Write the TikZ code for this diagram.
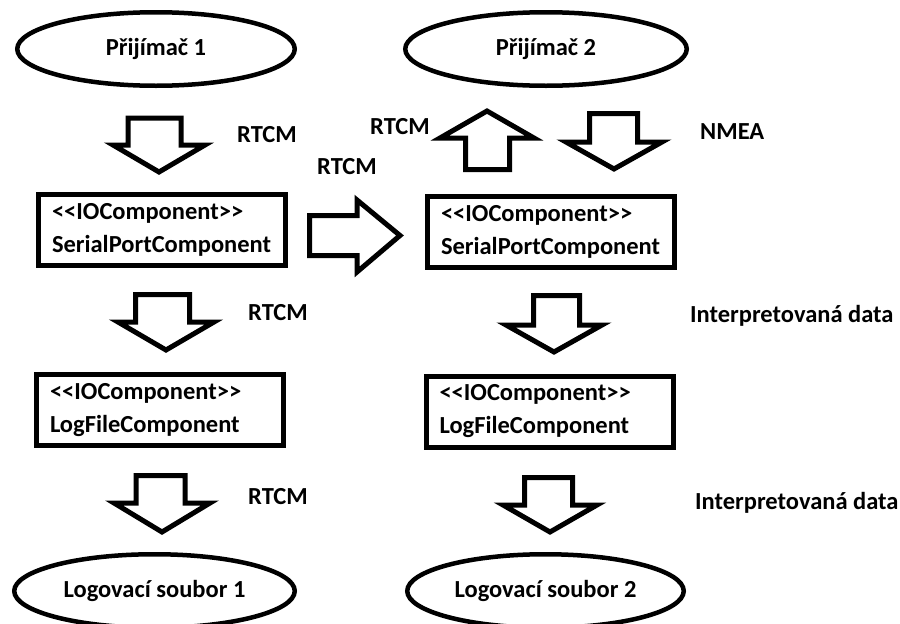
\documentclass[tikz,border=0pt]{standalone}
\usepackage{fontspec}
\setmainfont{Carlito}
\usetikzlibrary{shapes.geometric}
\newcommand\stereo[1]{\mbox{<}\mbox{<}#1\mbox{>}\mbox{>}}
\tikzset{
  txt/.style={font=\fontsize{24.5}{33}\selectfont\bfseries},
  oval/.style={ellipse, draw, line width=4.5pt, inner sep=0pt, txt},
  iobox/.style={rectangle, draw, line width=5pt, txt, align=left,
    text width=220pt, inner xsep=13.5pt, inner ysep=0pt, minimum height=71pt},
  blockarrow/.style={draw, line width=5pt, line join=miter, fill=white},
  lbl/.style={txt, anchor=base west, inner sep=0pt},
}
\begin{document}
\begin{tikzpicture}[x=1pt, y=-1pt]
\useasboundingbox (0,0) rectangle (900,624);

% ovals
\node[oval, minimum width=277.5pt, minimum height=73.5pt] (rx1) at (156,49) {\raisebox{3pt}{Přijímač 1}};
\node[oval, minimum width=281.5pt, minimum height=73.5pt] (rx2) at (546,49) {\raisebox{3pt}{Přijímač 2}};
\node[oval, minimum width=280.5pt, minimum height=73.5pt] (log1) at (154.5,591) {Logovací soubor 1};
\node[oval, minimum width=276.5pt, minimum height=73.5pt] (log2) at (545.5,591) {Logovací soubor 2};

% component boxes
\node[iobox] (sp1) at (162,230) {\stereo{IOComponent}\\SerialPortComponent};
\node[iobox] (sp2) at (551,231.5) {\stereo{IOComponent}\\SerialPortComponent};
\node[iobox] (lf1) at (160,410) {\stereo{IOComponent}\\LogFileComponent};
\node[iobox] (lf2) at (549.5,411.5) {\stereo{IOComponent}\\LogFileComponent};

% block arrows
\draw[blockarrow] (128,118) -- (181,118) -- (181,145) -- (205,145) -- (159,172) -- (113,145) -- (128,145) -- cycle;
\draw[blockarrow] (465.5,169.5) -- (509.5,169.5) -- (509.5,138) -- (534,138) -- (487,111) -- (440,138) -- (465.5,138) -- cycle;
\draw[blockarrow] (589.5,113.5) -- (637.5,113.5) -- (637.5,142) -- (662,142) -- (614,169) -- (566,142) -- (589.5,142) -- cycle;
\draw[blockarrow] (309.5,215.5) -- (357,215.5) -- (357,200) -- (400,235.5) -- (357,272) -- (357,255.5) -- (309.5,255.5) -- cycle;
\draw[blockarrow] (135.5,294.5) -- (189.5,294.5) -- (189.5,322) -- (214,322) -- (166,350) -- (118,322) -- (135.5,322) -- cycle;
\draw[blockarrow] (533.5,295.5) -- (579.5,295.5) -- (579.5,325) -- (602,325) -- (554,352) -- (506,325) -- (533.5,325) -- cycle;
\draw[blockarrow] (136,475.5) -- (185,475.5) -- (185,503) -- (210,503) -- (162,532) -- (114,503) -- (136,503) -- cycle;
\draw[blockarrow] (524.5,477.5) -- (572.5,477.5) -- (572.5,505) -- (597,505) -- (550,532) -- (503,505) -- (524.5,505) -- cycle;

% labels
\node[lbl] (l1) at (237,142.5) {RTCM};
\node[lbl] (l2) at (370,134.5) {RTCM};
\node[lbl] (l3) at (317,174.5) {RTCM};
\node[lbl] (l4) at (700,139.5) {NMEA};
\node[lbl] (l5) at (248,320.5) {RTCM};
\node[lbl] (l6) at (690,322.5) {Interpretovaná data};
\node[lbl] (l7) at (248,504.5) {RTCM};
\node[lbl] (l8) at (695,509.5) {Interpretovaná data};
\end{tikzpicture}
\end{document}
